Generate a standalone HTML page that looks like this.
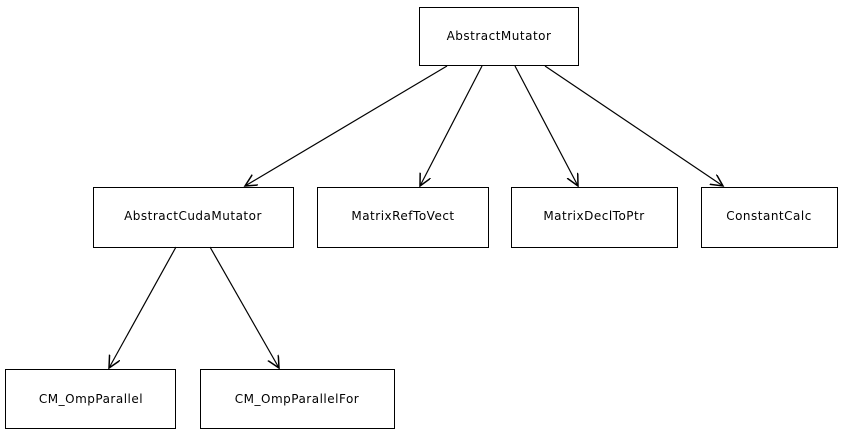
<!DOCTYPE html>
<html><head><style>body{margin:0;background:#fff}</style></head><body>
<svg width="843" height="435" xmlns="http://www.w3.org/2000/svg" font-family="DejaVu Sans, sans-serif" font-size="12" letter-spacing="0.5">
<defs><marker id="a" markerWidth="14" markerHeight="14" refX="12" refY="6" orient="auto" markerUnits="userSpaceOnUse"><path d="M0,0 L12,6 L0,12" fill="none" stroke="#000" stroke-width="1.5"/></marker></defs>
<g fill="#fff" stroke="#000" stroke-width="1">
<rect x="419.5" y="7.5" width="159" height="58"/>
<rect x="93.5" y="187.5" width="200" height="60"/>
<rect x="317.5" y="187.5" width="171" height="60"/>
<rect x="511.5" y="187.5" width="166" height="60"/>
<rect x="701.5" y="187.5" width="136" height="60"/>
<rect x="5.5" y="369.5" width="170" height="59"/>
<rect x="200.5" y="369.5" width="194" height="59"/>
</g>
<g stroke="#000" stroke-width="1.2" marker-end="url(#a)">
<line x1="447" y1="66" x2="245" y2="186"/>
<line x1="482" y1="66" x2="420" y2="186"/>
<line x1="515" y1="66" x2="578" y2="186"/>
<line x1="545" y1="66" x2="723" y2="186"/>
<line x1="176" y1="247" x2="109" y2="368"/>
<line x1="210" y1="247" x2="279" y2="368"/>
</g>
<g text-anchor="middle">
<text x="499" y="40">AbstractMutator</text>
<text x="193" y="220">AbstractCudaMutator</text>
<text x="403" y="220">MatrixRefToVect</text>
<text x="594" y="220">MatrixDeclToPtr</text>
<text x="769" y="220">ConstantCalc</text>
<text x="91" y="403">CM_OmpParallel</text>
<text x="297" y="403">CM_OmpParallelFor</text>
</g>
</svg>
</body></html>
